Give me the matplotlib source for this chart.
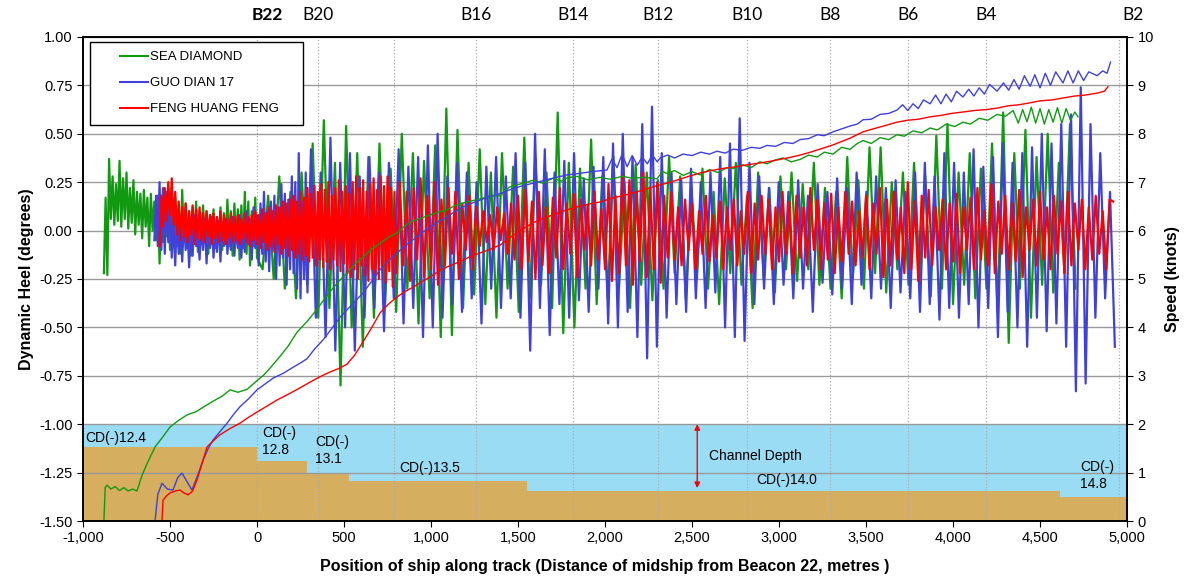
import numpy as np
import matplotlib
matplotlib.use("Agg")
import matplotlib.pyplot as plt
from matplotlib.ticker import FuncFormatter, MultipleLocator
from matplotlib.patches import Rectangle
import matplotlib.transforms as mtransforms

plt.rcParams['font.family'] = ['Liberation Sans', 'DejaVu Sans']
plt.rcParams['axes.unicode_minus'] = False

# ---------------- data ----------------
ships = ['SEA DIAMOND', 'GUO DIAN 17', 'FENG HUANG FENG']

# dynamic heel (degrees); each block sampled at a fixed spacing from its start (m)
sd_heel_dense_start, sd_heel_dense_step = -880, 10
sd_heel_dense = [
    -0.22, 0.17, -0.23, 0.37, 0.06, 0.28, 0.03, 0.24, 0.05, 0.36,
    0.02, 0.27, 0.06, 0.30, 0.01, 0.22, 0.04, 0.26, -0.02, 0.20,
    0.03, 0.19, -0.04, 0.21, 0.02, 0.17, -0.08, 0.19, 0.00, 0.15,
    -0.05, 0.18, -0.17, 0.12, -0.06, 0.16, -0.03, 0.15, -0.10, 0.13,
    -0.04, 0.17, -0.08, 0.12, -0.12, 0.21, -0.05, 0.14, -0.09, 0.10,
    -0.13, 0.12, -0.06, 0.15, -0.11, 0.09, -0.07, 0.13, -0.05, 0.10,
    -0.12, 0.08, -0.04, 0.11, -0.09, 0.07, -0.06, 0.12, -0.10, 0.09,
    -0.05, 0.16, -0.08, 0.10, -0.13, 0.14, -0.06, 0.11, -0.15, 0.13,
    -0.09, 0.20, -0.12, 0.15, -0.18, 0.10, -0.08, 0.17, -0.14]
sd_heel_start, sd_heel_step = 32, 32
sd_heel = [
    -0.20, 0.18, -0.25, 0.28, -0.30, 0.20, -0.35, 0.30, -0.28, 0.45,
    -0.45, 0.57, -0.40, 0.35, -0.80, 0.54, -0.50, 0.40, -0.60, 0.38,
    -0.45, 0.45, -0.38, 0.32, -0.42, 0.50, -0.30, 0.40, -0.48, 0.36,
    -0.35, 0.44, -0.55, 0.63, -0.54, 0.52, -0.40, 0.35, -0.33, 0.42,
    -0.38, 0.30, -0.45, 0.40, -0.30, 0.33, -0.42, 0.48, -0.35, 0.37,
    -0.28, 0.30, -0.40, 0.61, -0.53, 0.35, -0.50, 0.32, -0.30, 0.47,
    -0.38, 0.28, -0.35, 0.38, -0.30, 0.25, -0.40, 0.34, -0.28, 0.30,
    -0.36, 0.26, -0.30, 0.38, -0.22, 0.28, -0.35, 0.22, -0.25, 0.32,
    -0.30, 0.20, -0.38, 0.27, -0.22, 0.35, -0.28, 0.18, -0.40, 0.30,
    -0.25, 0.22, -0.32, 0.28, -0.20, 0.30, -0.26, 0.24, -0.20, 0.35,
    -0.28, 0.22, -0.30, 0.20, -0.35, 0.38, -0.25, 0.26, -0.30, 0.43,
    -0.22, 0.43, -0.32, 0.25, -0.20, 0.30, -0.28, 0.35, -0.25, 0.28,
    -0.34, 0.49, -0.30, 0.55, -0.38, 0.30, -0.28, 0.40, -0.35, 0.32,
    -0.30, 0.45, -0.42, 0.61, -0.58, 0.40, -0.30, 0.52, -0.45, 0.38,
    -0.28, 0.50, -0.32, 0.35, -0.22, 0.55, -0.30]

gd_heel_dense_start, gd_heel_dense_step = -590, 10
gd_heel_dense = [
    -0.05, 0.18, -0.08, 0.25, -0.10, 0.22, -0.12, 0.20, -0.06, 0.15,
    -0.14, 0.05, -0.18, 0.08, -0.12, 0.03, -0.16, 0.06, -0.10, 0.02,
    -0.19, 0.05, -0.13, 0.08, -0.08, 0.00, -0.15, 0.04, -0.10, 0.06,
    -0.17, 0.03, -0.09, 0.07, -0.14, 0.02, -0.11, 0.05, -0.16, 0.04,
    -0.08, 0.06, -0.12, 0.03, -0.10, 0.07, -0.13, 0.02, -0.09, 0.08,
    -0.14, 0.04, -0.11, 0.10, -0.07, 0.06, -0.15, 0.12, -0.09, 0.08,
    -0.18, 0.14, -0.12, 0.20, -0.16, 0.10, -0.21, 0.15, -0.10, 0.18,
    -0.25, 0.12, -0.18, 0.24, -0.14, 0.19, -0.28, 0.16, -0.20, 0.28,
    -0.22, 0.25, -0.30, 0.40, -0.35, 0.15, -0.25, 0.30, -0.32]
gd_heel_start, gd_heel_step = 310, 28
gd_heel = [
    0.42, -0.45, 0.30, -0.55, 0.48, -0.62, 0.35, -0.50, 0.40, -0.62,
    0.28, -0.45, 0.38, -0.40, 0.30, -0.52, 0.35, -0.35, 0.42, -0.48,
    0.33, -0.40, 0.38, -0.55, 0.44, -0.50, 0.50, -0.45, 0.28, -0.38,
    0.35, -0.42, 0.30, -0.35, 0.25, -0.48, 0.33, -0.30, 0.38, -0.40,
    0.28, -0.35, 0.40, -0.45, 0.35, -0.62, 0.50, -0.40, 0.42, -0.54,
    0.30, -0.38, 0.36, -0.45, 0.40, -0.36, 0.27, -0.42, 0.33, -0.30,
    0.38, -0.48, 0.45, -0.50, 0.50, -0.42, 0.38, -0.55, 0.55, -0.66,
    0.64, -0.60, 0.40, -0.45, 0.30, -0.38, 0.26, -0.42, 0.32, -0.35,
    0.25, -0.40, 0.30, -0.32, 0.38, -0.50, 0.45, -0.55, 0.58, -0.57,
    0.35, -0.38, 0.28, -0.30, 0.22, -0.38, 0.25, -0.28, 0.20, -0.35,
    0.26, -0.30, 0.18, -0.42, 0.24, -0.27, 0.20, -0.33, 0.27, -0.30,
    0.22, -0.38, 0.30, -0.28, 0.20, -0.35, 0.28, -0.30, 0.22, -0.40,
    0.26, -0.32, 0.20, -0.35, 0.30, -0.42, 0.35, -0.38, 0.28, -0.46,
    0.40, -0.40, 0.35, -0.45, 0.30, -0.38, 0.42, -0.50, 0.33, -0.40,
    0.38, -0.55, 0.45, -0.42, 0.35, -0.50, 0.40, -0.60, 0.43, -0.45,
    0.50, -0.52, 0.45, -0.48, 0.55, -0.60, 0.60, -0.83, 0.74, -0.79,
    0.55, -0.45, 0.40, -0.35, 0.20, -0.60]

fh_heel_dense_start, fh_heel_dense_step = -560, 10
fh_heel_dense = [
    -0.08, 0.18, 0.02, 0.22, 0.05, 0.25, 0.08, 0.27, 0.03, 0.20,
    -0.02, 0.15, -0.05, 0.12, -0.03, 0.14, -0.06, 0.10, -0.02, 0.13,
    -0.07, 0.11, -0.04, 0.12, -0.05, 0.09, -0.06, 0.10, -0.03, 0.08,
    -0.07, 0.09, -0.04, 0.07, -0.06, 0.10, -0.05, 0.08, -0.07, 0.06,
    -0.04, 0.09, -0.06, 0.07, -0.05, 0.08, -0.07, 0.06, -0.04, 0.09,
    -0.06, 0.07, -0.08, 0.08, -0.05, 0.10, -0.07, 0.08, -0.09, 0.11,
    -0.06, 0.09, -0.10, 0.12, -0.08, 0.10, -0.11, 0.13, -0.07, 0.12,
    -0.12, 0.15, -0.09, 0.14, -0.13, 0.16, -0.10, 0.18, -0.14, 0.15,
    -0.12, 0.20, -0.15, 0.17, -0.13, 0.22, -0.16, 0.19, -0.14, 0.23,
    -0.18, 0.20, -0.15, 0.24, -0.19, 0.21, -0.16, 0.25, -0.20, 0.18,
    -0.15, 0.22, -0.18, 0.26, -0.21, 0.20, -0.17, 0.23, -0.22, 0.19,
    -0.24, 0.25, -0.20, 0.28, -0.25, 0.22, -0.18, 0.26, -0.23, 0.20,
    -0.26, 0.24, -0.20, 0.27, -0.22, 0.21, -0.25, 0.28, -0.19, 0.23,
    -0.27, 0.28, -0.21, 0.22, -0.29, 0.20]
fh_heel_start, fh_heel_step = 800, 20
fh_heel = [
    -0.22, 0.25, -0.18, 0.20, -0.26, 0.22, -0.15, 0.27, -0.24, 0.18,
    -0.20, 0.25, -0.28, 0.16, -0.18, 0.22, -0.12, 0.20, -0.25, 0.14,
    -0.10, 0.18, -0.20, 0.12, -0.08, 0.10, -0.06, 0.08, -0.10, 0.12,
    -0.05, 0.09, -0.12, 0.14, -0.15, 0.18, -0.20, 0.21, -0.16, 0.15,
    -0.25, 0.20, -0.18, 0.12, -0.22, 0.17, -0.14, 0.22, -0.20, 0.14,
    -0.12, 0.19, -0.24, 0.16, -0.10, 0.13, -0.18, 0.20, -0.15, 0.11,
    -0.20, 0.24, -0.26, 0.18, -0.22, 0.28, -0.18, 0.26, -0.28, 0.20,
    -0.16, 0.30, -0.24, 0.22, -0.20, 0.25, -0.27, 0.18, -0.14, 0.20,
    -0.15, 0.12, -0.18, 0.16, -0.10, 0.14, -0.20, 0.10, -0.12, 0.18,
    -0.16, 0.08, -0.14, 0.15, -0.20, 0.12, -0.10, 0.16, -0.18, 0.10,
    -0.12, 0.20, -0.22, 0.14, -0.15, 0.18, -0.12, 0.16, -0.20, 0.12,
    -0.16, 0.20, -0.12, 0.15, -0.22, 0.18, -0.14, 0.12, -0.18, 0.22,
    -0.10, 0.16, -0.20, 0.14, -0.15, 0.19, -0.22, 0.12, -0.16, 0.20,
    -0.12, 0.15, -0.18, 0.10, -0.14, 0.18, -0.20, 0.14, -0.12, 0.22,
    -0.24, 0.16, -0.18, 0.20, -0.15, 0.12, -0.22, 0.25, -0.20, 0.15,
    -0.26, 0.18, -0.14, 0.21, -0.18, 0.12, -0.10, 0.16, -0.20, 0.14,
    -0.16, 0.19, -0.22, 0.12, -0.10, 0.17, -0.20, 0.22, -0.15, 0.10,
    -0.18, 0.24, -0.22, 0.15, -0.12, 0.18, -0.20, 0.14, -0.16, 0.21,
    -0.24, 0.12, -0.10, 0.16, -0.18, 0.20, -0.15, 0.12, -0.20, 0.18,
    -0.12, 0.15, -0.22, 0.20, -0.18, 0.14, -0.10, 0.16, -0.20, 0.12,
    -0.15, 0.18, -0.12, 0.10, -0.20, 0.16, 0.15]

# speed (knots) as (position m, speed)
sd_speed = [
    (-880, 0.0), (-872, 0.70), (-862, 0.74), (-840, 0.66), (-815, 0.71), (-790, 0.63),
    (-765, 0.69), (-740, 0.62), (-715, 0.66), (-690, 0.62), (-660, 0.95), (-630, 1.20),
    (-586, 1.53), (-545, 1.72), (-500, 1.94), (-450, 2.08), (-403, 2.19), (-350, 2.26),
    (-287, 2.40), (-240, 2.50), (-200, 2.58), (-155, 2.71), (-110, 2.66), (-57, 2.72),
    (0, 2.90), (40, 3.02), (80, 3.18), (132, 3.40), (180, 3.62), (230, 3.90),
    (287, 4.12), (340, 4.35), (380, 4.55), (420, 4.74), (470, 4.95), (517, 5.12),
    (560, 5.30), (609, 5.45), (660, 5.62), (707, 5.74), (755, 5.86), (805, 5.95),
    (850, 6.10), (897, 6.20), (945, 6.26), (994, 6.32), (1040, 6.38), (1092, 6.43),
    (1140, 6.52), (1184, 6.57), (1240, 6.62), (1299, 6.67), (1350, 6.72), (1397, 6.72),
    (1450, 6.90), (1500, 6.95), (1550, 7.00), (1586, 7.04), (1640, 6.98), (1700, 7.08),
    (1750, 7.02), (1782, 7.09), (1840, 7.12), (1900, 7.05), (1971, 7.10), (2030, 7.06),
    (2100, 7.12), (2161, 7.08), (2230, 7.10), (2299, 7.07), (2330, 7.22), (2356, 7.18),
    (2400, 7.24), (2450, 7.14), (2500, 7.22), (2546, 7.15), (2600, 7.26), (2650, 7.20),
    (2700, 7.30), (2736, 7.28), (2790, 7.36), (2840, 7.30), (2890, 7.42), (2931, 7.38),
    (2980, 7.46), (3023, 7.50), (3070, 7.42), (3121, 7.47), (3170, 7.56), (3220, 7.52),
    (3260, 7.62), (3310, 7.58), (3360, 7.72), (3408, 7.68), (3450, 7.80), (3483, 7.86),
    (3530, 7.80), (3580, 7.92), (3630, 7.88), (3678, 7.98), (3720, 7.95), (3770, 8.06),
    (3820, 8.02), (3868, 8.12), (3910, 8.08), (3960, 8.20), (4010, 8.15), (4057, 8.24),
    (4100, 8.20), (4150, 8.32), (4200, 8.28), (4253, 8.40), (4300, 8.36), (4345, 8.48),
    (4375, 8.22), (4400, 8.50), (4425, 8.25), (4450, 8.55), (4475, 8.22), (4500, 8.52),
    (4525, 8.20), (4550, 8.50), (4575, 8.24), (4600, 8.54), (4625, 8.22), (4650, 8.52),
    (4675, 8.28), (4700, 8.45), (4718, 8.35)]
gd_speed = [
    (-586, 0.0), (-570, 0.55), (-546, 0.78), (-515, 0.66), (-483, 0.64), (-455, 0.90),
    (-431, 0.99), (-400, 0.80), (-374, 0.64), (-340, 0.95), (-310, 1.26), (-280, 1.50),
    (-253, 1.67), (-210, 1.86), (-172, 2.02), (-135, 2.20), (-98, 2.36), (-50, 2.52),
    (0, 2.71), (50, 2.84), (92, 2.95), (150, 3.05), (200, 3.16), (247, 3.26),
    (287, 3.35), (330, 3.55), (379, 3.74), (430, 3.98), (477, 4.21), (540, 4.45),
    (609, 4.71), (660, 4.96), (707, 5.19), (755, 5.38), (805, 5.54), (850, 5.68),
    (897, 5.81), (945, 5.95), (994, 6.07), (1040, 6.18), (1092, 6.28), (1140, 6.40),
    (1184, 6.49), (1230, 6.56), (1282, 6.63), (1330, 6.70), (1379, 6.74), (1450, 6.84),
    (1520, 6.92), (1586, 6.98), (1650, 7.04), (1720, 7.10), (1782, 7.15), (1850, 7.18),
    (1930, 7.22), (2011, 7.25), (2040, 7.48), (2069, 7.30), (2098, 7.58), (2127, 7.32),
    (2156, 7.55), (2185, 7.35), (2214, 7.52), (2243, 7.38), (2272, 7.56), (2300, 7.42),
    (2316, 7.50), (2360, 7.56), (2400, 7.50), (2448, 7.58), (2500, 7.55), (2550, 7.62),
    (2600, 7.58), (2644, 7.64), (2690, 7.60), (2736, 7.68), (2790, 7.66), (2840, 7.72),
    (2890, 7.70), (2931, 7.76), (2980, 7.74), (3030, 7.82), (3080, 7.80), (3121, 7.88),
    (3170, 7.90), (3220, 7.98), (3260, 7.96), (3310, 8.04), (3360, 8.10), (3408, 8.16),
    (3450, 8.20), (3483, 8.29), (3530, 8.30), (3580, 8.40), (3630, 8.42), (3678, 8.49),
    (3710, 8.60), (3740, 8.48), (3770, 8.62), (3800, 8.52), (3830, 8.70), (3868, 8.62),
    (3900, 8.80), (3930, 8.62), (3960, 8.82), (3990, 8.66), (4020, 8.88), (4057, 8.76),
    (4090, 8.92), (4120, 8.78), (4150, 8.95), (4180, 8.82), (4210, 9.02), (4253, 8.88),
    (4290, 9.05), (4320, 8.90), (4350, 9.12), (4380, 8.92), (4410, 9.20), (4443, 8.98),
    (4470, 9.22), (4500, 8.95), (4530, 9.25), (4560, 9.00), (4590, 9.28), (4632, 9.05),
    (4660, 9.30), (4690, 9.05), (4720, 9.30), (4750, 9.10), (4780, 9.28), (4828, 9.20),
    (4860, 9.30), (4885, 9.25), (4905, 9.48)]
fh_speed = [
    (-546, 0.0), (-540, 0.43), (-520, 0.52), (-500, 0.58), (-470, 0.62), (-443, 0.64),
    (-420, 0.58), (-396, 0.54), (-370, 0.62), (-345, 0.85), (-315, 1.20), (-287, 1.53),
    (-250, 1.66), (-213, 1.78), (-160, 1.90), (-98, 2.02), (-50, 2.14), (0, 2.25),
    (60, 2.38), (115, 2.50), (180, 2.62), (247, 2.75), (300, 2.86), (362, 2.98),
    (420, 3.08), (470, 3.15), (517, 3.24), (560, 3.42), (609, 3.70), (660, 4.00),
    (707, 4.30), (755, 4.48), (805, 4.63), (850, 4.74), (897, 4.83), (945, 4.94),
    (994, 5.04), (1040, 5.15), (1092, 5.25), (1140, 5.32), (1184, 5.39), (1230, 5.47),
    (1282, 5.54), (1330, 5.60), (1397, 5.70), (1450, 5.85), (1520, 6.02), (1586, 6.16),
    (1650, 6.26), (1720, 6.35), (1782, 6.43), (1850, 6.50), (1910, 6.55), (1971, 6.59),
    (2030, 6.66), (2100, 6.72), (2161, 6.78), (2230, 6.85), (2290, 6.92), (2356, 6.98),
    (2420, 7.05), (2480, 7.12), (2546, 7.19), (2610, 7.24), (2670, 7.28), (2736, 7.31),
    (2800, 7.35), (2860, 7.38), (2931, 7.42), (2990, 7.46), (3060, 7.51), (3121, 7.56),
    (3180, 7.62), (3250, 7.70), (3310, 7.77), (3360, 7.84), (3408, 7.91), (3483, 8.04),
    (3540, 8.10), (3600, 8.16), (3678, 8.24), (3740, 8.28), (3800, 8.30), (3868, 8.35),
    (3930, 8.38), (3990, 8.42), (4057, 8.45), (4120, 8.48), (4190, 8.50), (4253, 8.53),
    (4320, 8.58), (4380, 8.60), (4443, 8.64), (4500, 8.68), (4570, 8.70), (4632, 8.74),
    (4700, 8.78), (4760, 8.80), (4828, 8.84), (4870, 8.88), (4890, 8.97)]

# beacons along the track (m)
beacon_pos = [0, 350, 787, 1259, 1816, 2305, 2816, 3293, 3741, 4190, 4954]
beacon_names = ['B22', 'B20', '', 'B16', 'B14', 'B12', 'B10', 'B8', 'B6', 'B4', 'B2']

# channel: chart datum depth steps (edges in m, bed level in heel-axis units)
bed_edges = [-1000, 0, 290, 530, 1550, 4615, 5000]
bed_level = [-1.116, -1.19, -1.254, -1.293, -1.345, -1.378]
cd_labels = ['CD(-)12.4', 'CD(-)\n12.8', 'CD(-)\n13.1', 'CD(-)13.5', 'CD(-)14.0', 'CD(-)\n14.8']
cd_label_pos = [(-985, -1.07), (30, -1.09), (335, -1.135), (820, -1.225), (2870, -1.29), (4730, -1.265)]

colors = ['#119a11', '#4040dd', '#ff0000']


def series(start, step, vals):
    return start + step * np.arange(len(vals)), np.array(vals)


# ---------------- plot ----------------
fig = plt.figure(figsize=(11.84, 5.85), dpi=100)
ax = fig.add_axes([0.0701, 0.1094, 0.8818, 0.8274])

ax.set_xlim(-1000, 5000)
ax.set_ylim(-1.5, 1.0)

# channel depth & seabed
ax.fill_between([-1000, 5000], -1.5, -1.0, color='#9adcf4', lw=0, zorder=0.5)
ax.fill_between(bed_edges, -1.5, bed_level + [bed_level[-1]], step='post',
                color='#d5ae60', lw=0, zorder=0.6)

ax.yaxis.set_major_locator(MultipleLocator(0.25))
ax.grid(axis='y', color='#9a9a9a', lw=1)
for b in beacon_pos:
    ax.axvline(b, color='#aaaaaa', ls=':', lw=0.9, zorder=1.5)

heel_sets = [
    (series(sd_heel_dense_start, sd_heel_dense_step, sd_heel_dense),
     series(sd_heel_start, sd_heel_step, sd_heel)),
    (series(gd_heel_dense_start, gd_heel_dense_step, gd_heel_dense),
     series(gd_heel_start, gd_heel_step, gd_heel)),
    (series(fh_heel_dense_start, fh_heel_dense_step, fh_heel_dense),
     series(fh_heel_start, fh_heel_step, fh_heel)),
]
for (d, s), c in zip(heel_sets, colors):
    x = np.concatenate([d[0], s[0]])
    y = np.concatenate([d[1], s[1]])
    ax.plot(x, y, color=c, lw=1.6, zorder=2)

ax2 = ax.twinx()
ax2.set_ylim(0, 10)
ax2.yaxis.set_major_locator(MultipleLocator(1))
handles = []
for sp, c, name in zip([sd_speed, gd_speed, fh_speed], colors, ships):
    xs, vs = zip(*sp)
    h, = ax2.plot(xs, vs, color=c, lw=1.0)
    handles.append(h)

# channel depth arrow and labels
ax.annotate('', xy=(2530, -1.0), xytext=(2530, -1.33),
            arrowprops=dict(arrowstyle='<|-|>', color='red', lw=1.0,
                            mutation_scale=8, shrinkA=0, shrinkB=0), zorder=3)
ax.text(2600, -1.165, 'Channel Depth', fontsize=10, va='center', ha='left')
for lab, (lx, ly) in zip(cd_labels, cd_label_pos):
    ax.text(lx, ly, lab, fontsize=10, va='center', ha='left', linespacing=1.25)

# beacon names above the plot
trans = mtransforms.blended_transform_factory(ax.transData, ax.transAxes)
for b, n in zip(beacon_pos, beacon_names):
    off = 60 if n == 'B22' else (80 if n == 'B2' else 0)
    ax.text(b + off, 1.028, n, transform=trans, ha='center', va='bottom',
            fontsize=12.5, family=['Lato', 'DejaVu Sans'],
            fontweight='bold' if n == 'B22' else 'normal')

# axes cosmetics
ax.xaxis.set_major_locator(MultipleLocator(500))
ax.xaxis.set_major_formatter(FuncFormatter(lambda v, p: f'{v:,.0f}'))
ax.yaxis.set_major_formatter(FuncFormatter(lambda v, p: f'{v:.2f}'))
ax.tick_params(labelsize=10.5, direction='out', length=4)
ax2.tick_params(labelsize=10.5, direction='out', length=4)
for a in (ax, ax2):
    for sp in a.spines.values():
        sp.set_linewidth(1.2)
        sp.set_color('black')

ax.set_xlabel('Position of ship along track (Distance of midship from Beacon 22, metres )',
              fontsize=11.5, fontweight='bold', labelpad=10)
ax.set_ylabel('Dynamic Heel (degrees)', fontsize=11.5, fontweight='bold', labelpad=4)
ax2.set_ylabel('Speed (knots)', fontsize=11.5, fontweight='bold', labelpad=8)

# legend with a square frame
ax2.add_patch(Rectangle((0.0067, 0.818), 0.204, 0.172, transform=ax.transAxes,
                        fill=True, facecolor='white', edgecolor='black', lw=1.0, zorder=5))
leg = ax2.legend(handles, ships, loc='upper left', bbox_to_anchor=(0.0354, 0.971),
                 frameon=False, fontsize=9.5, handlelength=2.1, handletextpad=0.15,
                 labelspacing=1.05, borderpad=0, borderaxespad=0)
leg.set_zorder(6)
for h in leg.legend_handles:
    h.set_linewidth(1.5)

fig.savefig('out.png', dpi=100)
